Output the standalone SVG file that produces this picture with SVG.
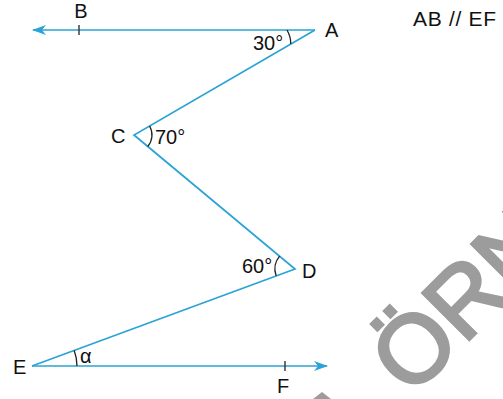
<svg xmlns="http://www.w3.org/2000/svg" width="503" height="399" viewBox="0 0 503 399">
<style>
.ln{fill:none;stroke:#2aa3d6;stroke-width:1.7}
.arc{fill:none;stroke:#222;stroke-width:1.3}
.tick{stroke:#333;stroke-width:1.4}
.lbl{font-family:"Liberation Sans",Arial,sans-serif;font-size:20px;fill:#111}
.wm{font-family:"Liberation Sans",Arial,sans-serif;font-size:96px;fill:#9c9c9c;stroke:#9c9c9c;stroke-width:3}
</style>
<defs>
<marker id="arr" viewBox="0 0 14 10" refX="13" refY="5" markerWidth="14" markerHeight="10" markerUnits="userSpaceOnUse" orient="auto">
<path d="M0,0 L14,5 L0,10 L4,5 Z" fill="#2aa3d6"/>
</marker>
</defs>
<rect width="503" height="399" fill="#ffffff"/>
<g id="watermark">
<text class="wm" transform="translate(411,398) rotate(-45)">ÖRNEK</text>
<polygon points="322,392 313,399 331,399" fill="#9c9c9c"/>
</g>
<g id="connectors">
<path class="ln" d="M315,30 L33,30" marker-end="url(#arr)"/>
<path class="ln" d="M315,30 L134,135 L295,269 L32,366"/>
<path class="ln" d="M32,366 L327,366" marker-end="url(#arr)"/>
</g>
<g id="node-A">
<text class="lbl" x="325" y="37">A</text>
<path class="arc" d="M287,30 A28,28 0 0 1 290.8,44"/>
<text class="lbl" x="253" y="50">30°</text>
</g>
<g id="node-B">
<line class="tick" x1="79" y1="25" x2="79" y2="35"/>
<text class="lbl" x="81" y="18" text-anchor="middle">B</text>
</g>
<g id="node-C">
<text class="lbl" x="111" y="143">C</text>
<path class="arc" d="M149.6,126 A18,18 0 0 1 147.8,146.5"/>
<text class="lbl" x="155" y="144">70°</text>
</g>
<g id="node-D">
<text class="lbl" x="302" y="278">D</text>
<path class="arc" d="M279.6,256.2 A20,20 0 0 0 276.2,275.9"/>
<text class="lbl" x="242" y="273">60°</text>
</g>
<g id="node-E">
<text class="lbl" x="13" y="374">E</text>
<path class="arc" d="M74.2,350.4 A45,45 0 0 1 77,366"/>
<text class="lbl" x="80" y="363">α</text>
</g>
<g id="node-F">
<line class="tick" x1="285" y1="361" x2="285" y2="371"/>
<text class="lbl" x="283" y="393" text-anchor="middle">F</text>
</g>
<g id="note">
<text class="lbl" x="413" y="26" style="font-size:21px" textLength="83" lengthAdjust="spacing">AB // EF</text>
</g>
</svg>
